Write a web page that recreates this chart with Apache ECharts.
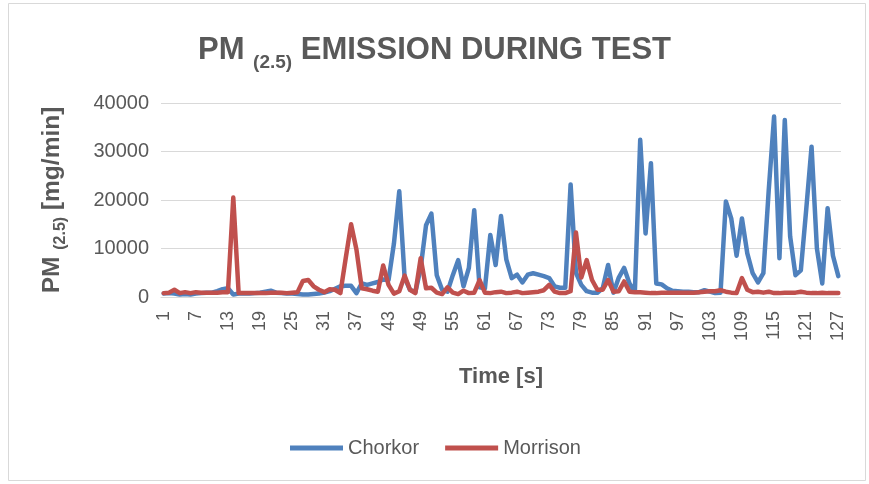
<!DOCTYPE html>
<html><head><meta charset="utf-8">
<script src="https://cdn.jsdelivr.net/npm/echarts@6/dist/echarts.min.js"></script>
<style>html,body{margin:0;padding:0;background:#fff}#c{width:869px;height:484px}</style>
</head><body><div id="c"></div>
<script>
// Time [s] categories 1..127
const categories = Array.from({length: 127}, (_, i) => String(i + 1));

// PM(2.5) [mg/min] — Chorkor
const chorkor = [
  700, 800, 700, 500, 600, 500, 700, 800, 900, 900,
  1200, 1600, 1800, 500, 700, 700, 700, 800, 900, 1100,
  1300, 900, 800, 700, 700, 600, 500, 500, 600, 700,
  900, 1200, 1700, 2200, 2300, 2300, 800, 2800, 2500, 2800,
  3100, 3600, 3500, 11000, 21800, 4000, 1500, 1000, 6000, 14800,
  17200, 4500, 1500, 1100, 4500, 7600, 2200, 6000, 17900, 2000,
  1800, 12800, 6600, 16700, 7700, 3900, 4600, 3000, 4600, 4900,
  4600, 4300, 3900, 2200, 1900, 1900, 23200, 5000, 2500, 1200,
  900, 900, 1800, 6600, 900, 4000, 6000, 2800, 1100, 32400,
  13100, 27600, 2800, 2600, 1800, 1300, 1200, 1100, 1100, 1000,
  1000, 1400, 1100, 800, 900, 19700, 16200, 8500, 16200, 9000,
  4900, 3000, 4900, 22000, 37200, 8000, 36500, 12500, 4500, 5500,
  18000, 31000, 10000, 2800, 18300, 8500, 4300
];

// PM(2.5) [mg/min] — Morrison
const morrison = [
  800, 900, 1500, 800, 1000, 800, 1000, 900, 900, 900,
  900, 1000, 1000, 20500, 800, 800, 800, 800, 800, 800,
  900, 900, 900, 800, 900, 1000, 3300, 3500, 2200, 1500,
  1000, 1600, 1500, 800, 8000, 15000, 9800, 1800, 1600, 1300,
  1100, 6500, 2500, 700, 1200, 4400, 1500, 800, 8000, 1800,
  1900, 900, 600, 2000, 900, 600, 1300, 800, 900, 3500,
  900, 800, 1000, 1100, 800, 900, 1100, 800, 900, 1000,
  1100, 1400, 2500, 1100, 800, 800, 1200, 13300, 4000, 7600,
  3500, 1500, 1500, 3500, 1100, 1200, 3200, 1100, 1000, 1000,
  900, 800, 800, 900, 900, 900, 900, 900, 900, 900,
  1000, 1100, 1200, 1200, 1400, 1100, 900, 800, 3900, 1500,
  1000, 1100, 900, 1100, 800, 800, 900, 900, 900, 1100,
  900, 800, 800, 900, 800, 800, 800
];

const seriesNames = ['Chorkor', 'Morrison'];
const yMin = 0, yMax = 40000, yStep = 10000;

const FONT = "'Liberation Sans', Arial, sans-serif";
const GRAY = '#595959';

const chart = echarts.init(document.getElementById('c'), null, {renderer: 'canvas'});
chart.setOption({
  animation: false,
  backgroundColor: '#ffffff',
  graphic: [{
    type: 'rect', shape: {x: 8.5, y: 3.5, width: 857, height: 477},
    style: {fill: 'none', stroke: '#d9d9d9', lineWidth: 1}, silent: true, z: -1
  }],
  title: {
    text: '{a|PM }{b|(2.5)}{a| EMISSION DURING TEST}',
    left: 'center', top: 30,
    textStyle: {
      rich: {
        a: {fontSize: 31, fontWeight: 'bold', color: GRAY, fontFamily: FONT, lineHeight: 30, verticalAlign: 'top'},
        b: {fontSize: 19, fontWeight: 'bold', color: GRAY, fontFamily: FONT, lineHeight: 56}
      }
    }
  },
  legend: {
    data: seriesNames,
    left: 285, top: 433,
    itemWidth: 53, itemHeight: 14, itemGap: 26,
    icon: 'path://M0,0 L53,0 L53,5 L0,5 Z',
    textStyle: {fontSize: 20, color: GRAY, fontFamily: FONT}
  },
  grid: {left: 161, right: 28, top: 103, bottom: 187, containLabel: false},
  xAxis: {
    type: 'category', data: categories, boundaryGap: true,
    name: 'Time [s]', nameLocation: 'middle', nameGap: 69,
    nameTextStyle: {fontSize: 22, fontWeight: 'bold', color: GRAY, fontFamily: FONT},
    axisLine: {lineStyle: {color: '#d9d9d9', width: 1}},
    axisTick: {show: false},
    axisLabel: {interval: 5, rotate: 90, fontSize: 18, color: GRAY, fontFamily: FONT, margin: 14}
  },
  yAxis: {
    type: 'value', min: yMin, max: yMax, interval: yStep,
    name: '{a|PM }{b|(2.5)}{a| [mg/min]}', nameLocation: 'middle', nameGap: 79,
    nameTextStyle: {
      rich: {
        a: {fontSize: 24.5, fontWeight: 'bold', color: GRAY, fontFamily: FONT, lineHeight: 26, verticalAlign: 'top'},
        b: {fontSize: 16, fontWeight: 'bold', color: GRAY, fontFamily: FONT, lineHeight: 42}
      }
    },
    axisLine: {show: false}, axisTick: {show: false},
    axisLabel: {fontSize: 20, color: GRAY, fontFamily: FONT, margin: 12, formatter: v => String(v)},
    splitLine: {lineStyle: {color: '#d9d9d9', width: 1}}
  },
  series: [
    {name: seriesNames[0], type: 'line', data: chorkor, symbol: 'none', color: '#4f81bd',
     lineStyle: {width: 4.5, color: '#4f81bd', cap: 'round', join: 'round'}},
    {name: seriesNames[1], type: 'line', data: morrison, symbol: 'none', color: '#c0504d',
     lineStyle: {width: 4.5, color: '#c0504d', cap: 'round', join: 'round'}}
  ]
});
</script></body></html>
